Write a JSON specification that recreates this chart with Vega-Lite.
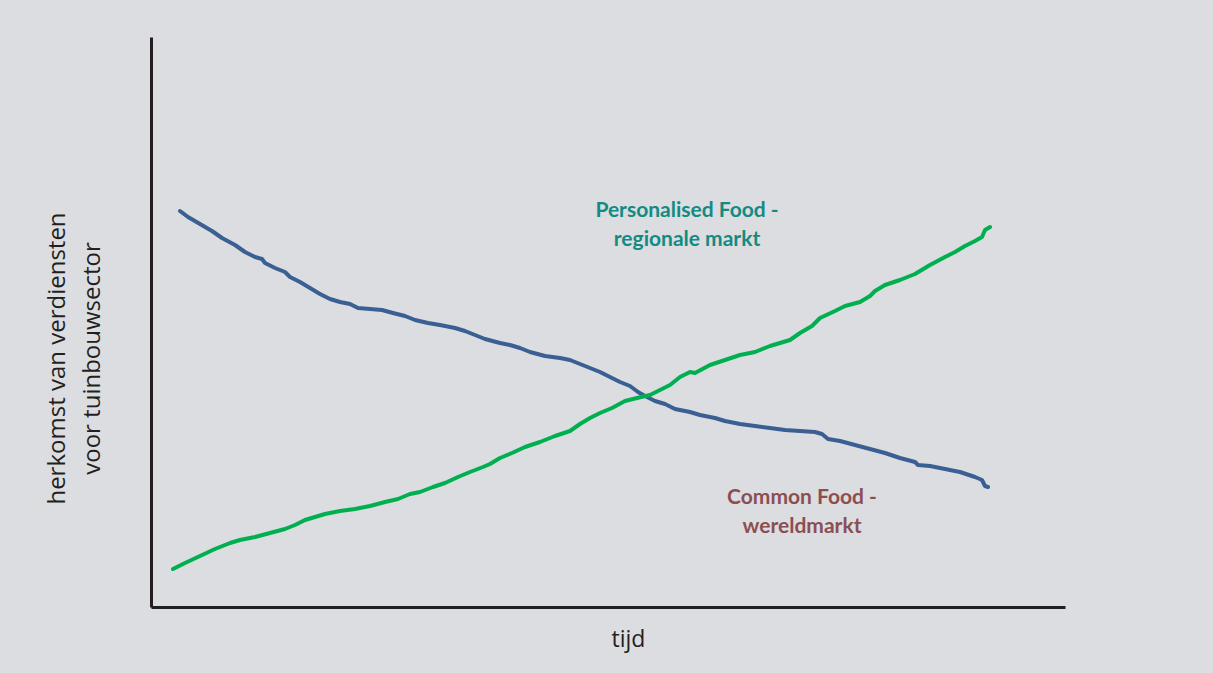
{
  "$schema": "https://vega.github.io/schema/vega-lite/v6.json",
  "width": 914,
  "height": 570,
  "autosize": "none",
  "padding": {"left": 151, "top": 37, "right": 148, "bottom": 66},
  "background": "#dcdde0",
  "config": {"view": {"stroke": null}},
  "datasets": {
    "curves": [
      {"serie": "Common Food", "tijd": 29, "waarde": 396},
      {"serie": "Common Food", "tijd": 37, "waarde": 390},
      {"serie": "Common Food", "tijd": 49, "waarde": 383},
      {"serie": "Common Food", "tijd": 61, "waarde": 376},
      {"serie": "Common Food", "tijd": 71, "waarde": 369},
      {"serie": "Common Food", "tijd": 84, "waarde": 362},
      {"serie": "Common Food", "tijd": 94, "waarde": 355},
      {"serie": "Common Food", "tijd": 104, "waarde": 350},
      {"serie": "Common Food", "tijd": 111, "waarde": 348},
      {"serie": "Common Food", "tijd": 114, "waarde": 344},
      {"serie": "Common Food", "tijd": 124, "waarde": 339},
      {"serie": "Common Food", "tijd": 134, "waarde": 335},
      {"serie": "Common Food", "tijd": 139, "waarde": 330},
      {"serie": "Common Food", "tijd": 149, "waarde": 325},
      {"serie": "Common Food", "tijd": 159, "waarde": 319},
      {"serie": "Common Food", "tijd": 169, "waarde": 313},
      {"serie": "Common Food", "tijd": 179, "waarde": 308},
      {"serie": "Common Food", "tijd": 189, "waarde": 305},
      {"serie": "Common Food", "tijd": 199, "waarde": 303},
      {"serie": "Common Food", "tijd": 207, "waarde": 299},
      {"serie": "Common Food", "tijd": 219, "waarde": 298},
      {"serie": "Common Food", "tijd": 231, "waarde": 297},
      {"serie": "Common Food", "tijd": 242, "waarde": 294},
      {"serie": "Common Food", "tijd": 254, "waarde": 291},
      {"serie": "Common Food", "tijd": 264, "waarde": 287},
      {"serie": "Common Food", "tijd": 277, "waarde": 284},
      {"serie": "Common Food", "tijd": 289, "waarde": 282},
      {"serie": "Common Food", "tijd": 304, "waarde": 279},
      {"serie": "Common Food", "tijd": 314, "waarde": 276},
      {"serie": "Common Food", "tijd": 324, "waarde": 272},
      {"serie": "Common Food", "tijd": 334, "waarde": 268},
      {"serie": "Common Food", "tijd": 349, "waarde": 264},
      {"serie": "Common Food", "tijd": 359, "waarde": 262},
      {"serie": "Common Food", "tijd": 369, "waarde": 259},
      {"serie": "Common Food", "tijd": 379, "waarde": 255},
      {"serie": "Common Food", "tijd": 394, "waarde": 251},
      {"serie": "Common Food", "tijd": 409, "waarde": 249},
      {"serie": "Common Food", "tijd": 419, "waarde": 247},
      {"serie": "Common Food", "tijd": 429, "waarde": 243},
      {"serie": "Common Food", "tijd": 439, "waarde": 239},
      {"serie": "Common Food", "tijd": 449, "waarde": 235},
      {"serie": "Common Food", "tijd": 459, "waarde": 230},
      {"serie": "Common Food", "tijd": 469, "waarde": 225},
      {"serie": "Common Food", "tijd": 479, "waarde": 221},
      {"serie": "Common Food", "tijd": 487, "waarde": 215},
      {"serie": "Common Food", "tijd": 494, "waarde": 211},
      {"serie": "Common Food", "tijd": 504, "waarde": 206},
      {"serie": "Common Food", "tijd": 514, "waarde": 203},
      {"serie": "Common Food", "tijd": 524, "waarde": 198},
      {"serie": "Common Food", "tijd": 539, "waarde": 195},
      {"serie": "Common Food", "tijd": 549, "waarde": 192},
      {"serie": "Common Food", "tijd": 564, "waarde": 189},
      {"serie": "Common Food", "tijd": 574, "waarde": 186},
      {"serie": "Common Food", "tijd": 589, "waarde": 183},
      {"serie": "Common Food", "tijd": 604, "waarde": 181},
      {"serie": "Common Food", "tijd": 619, "waarde": 179},
      {"serie": "Common Food", "tijd": 634, "waarde": 177},
      {"serie": "Common Food", "tijd": 649, "waarde": 176},
      {"serie": "Common Food", "tijd": 664, "waarde": 175},
      {"serie": "Common Food", "tijd": 671, "waarde": 173},
      {"serie": "Common Food", "tijd": 677, "waarde": 168},
      {"serie": "Common Food", "tijd": 689, "waarde": 166},
      {"serie": "Common Food", "tijd": 704, "waarde": 162},
      {"serie": "Common Food", "tijd": 719, "waarde": 158},
      {"serie": "Common Food", "tijd": 734, "waarde": 154},
      {"serie": "Common Food", "tijd": 749, "waarde": 149},
      {"serie": "Common Food", "tijd": 764, "waarde": 145},
      {"serie": "Common Food", "tijd": 767, "waarde": 142},
      {"serie": "Common Food", "tijd": 779, "waarde": 141},
      {"serie": "Common Food", "tijd": 794, "waarde": 138},
      {"serie": "Common Food", "tijd": 809, "waarde": 135},
      {"serie": "Common Food", "tijd": 824, "waarde": 130},
      {"serie": "Common Food", "tijd": 831, "waarde": 127},
      {"serie": "Common Food", "tijd": 834, "waarde": 121},
      {"serie": "Common Food", "tijd": 837, "waarde": 120},
      {"serie": "Personalised Food", "tijd": 22, "waarde": 38},
      {"serie": "Personalised Food", "tijd": 34, "waarde": 44},
      {"serie": "Personalised Food", "tijd": 49, "waarde": 51},
      {"serie": "Personalised Food", "tijd": 64, "waarde": 58},
      {"serie": "Personalised Food", "tijd": 79, "waarde": 64},
      {"serie": "Personalised Food", "tijd": 89, "waarde": 67},
      {"serie": "Personalised Food", "tijd": 104, "waarde": 70},
      {"serie": "Personalised Food", "tijd": 119, "waarde": 74},
      {"serie": "Personalised Food", "tijd": 134, "waarde": 78},
      {"serie": "Personalised Food", "tijd": 144, "waarde": 82},
      {"serie": "Personalised Food", "tijd": 154, "waarde": 87},
      {"serie": "Personalised Food", "tijd": 164, "waarde": 90},
      {"serie": "Personalised Food", "tijd": 174, "waarde": 93},
      {"serie": "Personalised Food", "tijd": 189, "waarde": 96},
      {"serie": "Personalised Food", "tijd": 204, "waarde": 98},
      {"serie": "Personalised Food", "tijd": 219, "waarde": 101},
      {"serie": "Personalised Food", "tijd": 234, "waarde": 105},
      {"serie": "Personalised Food", "tijd": 247, "waarde": 108},
      {"serie": "Personalised Food", "tijd": 259, "waarde": 113},
      {"serie": "Personalised Food", "tijd": 269, "waarde": 115},
      {"serie": "Personalised Food", "tijd": 282, "waarde": 120},
      {"serie": "Personalised Food", "tijd": 294, "waarde": 124},
      {"serie": "Personalised Food", "tijd": 307, "waarde": 130},
      {"serie": "Personalised Food", "tijd": 319, "waarde": 135},
      {"serie": "Personalised Food", "tijd": 332, "waarde": 140},
      {"serie": "Personalised Food", "tijd": 339, "waarde": 143},
      {"serie": "Personalised Food", "tijd": 349, "waarde": 149},
      {"serie": "Personalised Food", "tijd": 361, "waarde": 154},
      {"serie": "Personalised Food", "tijd": 374, "waarde": 160},
      {"serie": "Personalised Food", "tijd": 389, "waarde": 165},
      {"serie": "Personalised Food", "tijd": 404, "waarde": 171},
      {"serie": "Personalised Food", "tijd": 419, "waarde": 176},
      {"serie": "Personalised Food", "tijd": 429, "waarde": 183},
      {"serie": "Personalised Food", "tijd": 439, "waarde": 189},
      {"serie": "Personalised Food", "tijd": 449, "waarde": 194},
      {"serie": "Personalised Food", "tijd": 461, "waarde": 199},
      {"serie": "Personalised Food", "tijd": 474, "waarde": 206},
      {"serie": "Personalised Food", "tijd": 486, "waarde": 209},
      {"serie": "Personalised Food", "tijd": 499, "waarde": 212},
      {"serie": "Personalised Food", "tijd": 509, "waarde": 217},
      {"serie": "Personalised Food", "tijd": 519, "waarde": 222},
      {"serie": "Personalised Food", "tijd": 529, "waarde": 230},
      {"serie": "Personalised Food", "tijd": 539, "waarde": 235},
      {"serie": "Personalised Food", "tijd": 544, "waarde": 234},
      {"serie": "Personalised Food", "tijd": 559, "waarde": 242},
      {"serie": "Personalised Food", "tijd": 574, "waarde": 247},
      {"serie": "Personalised Food", "tijd": 589, "waarde": 252},
      {"serie": "Personalised Food", "tijd": 604, "waarde": 255},
      {"serie": "Personalised Food", "tijd": 619, "waarde": 261},
      {"serie": "Personalised Food", "tijd": 639, "waarde": 267},
      {"serie": "Personalised Food", "tijd": 649, "waarde": 274},
      {"serie": "Personalised Food", "tijd": 661, "waarde": 281},
      {"serie": "Personalised Food", "tijd": 669, "waarde": 289},
      {"serie": "Personalised Food", "tijd": 684, "waarde": 296},
      {"serie": "Personalised Food", "tijd": 694, "waarde": 301},
      {"serie": "Personalised Food", "tijd": 709, "waarde": 305},
      {"serie": "Personalised Food", "tijd": 719, "waarde": 311},
      {"serie": "Personalised Food", "tijd": 724, "waarde": 316},
      {"serie": "Personalised Food", "tijd": 734, "waarde": 322},
      {"serie": "Personalised Food", "tijd": 749, "waarde": 327},
      {"serie": "Personalised Food", "tijd": 764, "waarde": 333},
      {"serie": "Personalised Food", "tijd": 779, "waarde": 342},
      {"serie": "Personalised Food", "tijd": 794, "waarde": 350},
      {"serie": "Personalised Food", "tijd": 804, "waarde": 355},
      {"serie": "Personalised Food", "tijd": 814, "waarde": 361},
      {"serie": "Personalised Food", "tijd": 824, "waarde": 366},
      {"serie": "Personalised Food", "tijd": 831, "waarde": 370},
      {"serie": "Personalised Food", "tijd": 834, "waarde": 377},
      {"serie": "Personalised Food", "tijd": 839, "waarde": 380}
    ],
    "personal": [{"tijd": 536, "waarde": 396, "label": ["Personalised Food -", "regionale markt"]}],
    "common": [{"tijd": 651, "waarde": 109, "label": ["Common Food -", "wereldmarkt"]}]
  },
  "layer": [
    {
      "data": {"name": "curves"},
      "mark": {"type": "line", "strokeWidth": 4, "strokeCap": "round", "strokeJoin": "round"},
      "encoding": {
        "x": {
          "field": "tijd", "type": "quantitative",
          "scale": {"domain": [0, 914], "nice": false, "zero": false},
          "axis": {
            "title": "tijd", "labels": false, "ticks": false, "grid": false,
            "domainColor": "#231f20", "domainWidth": 3,
            "titleFont": "Open Sans", "titleFontSize": 23, "titleFontWeight": "normal", "titleColor": "#231f20",
            "titleX": 477, "titleY": 39, "titleAlign": "center", "titleBaseline": "alphabetic"
          }
        },
        "y": {
          "field": "waarde", "type": "quantitative",
          "scale": {"domain": [0, 570], "nice": false, "zero": false},
          "axis": {
            "title": ["herkomst van verdiensten", "voor tuinbouwsector"],
            "labels": false, "ticks": false, "grid": false,
            "domainColor": "#231f20", "domainWidth": 3,
            "titleFont": "Open Sans", "titleFontSize": 24, "titleFontWeight": "normal", "titleColor": "#231f20",
            "titleAngle": 270, "titleAlign": "center", "titleBaseline": "alphabetic", "titleLineHeight": 35,
            "titleX": -87, "titleY": 321
          }
        },
        "color": {
          "field": "serie", "type": "nominal",
          "scale": {"domain": ["Common Food", "Personalised Food"], "range": ["#3a5f92", "#00b050"]},
          "legend": null
        }
      }
    },
    {
      "data": {"name": "personal"},
      "mark": {"type": "text", "font": "Lato", "fontSize": 21, "fontWeight": "bold", "color": "#138b82", "align": "center", "baseline": "middle", "lineHeight": 29},
      "encoding": {
        "x": {"field": "tijd", "type": "quantitative"},
        "y": {"field": "waarde", "type": "quantitative"},
        "text": {"field": "label"}
      }
    },
    {
      "data": {"name": "common"},
      "mark": {"type": "text", "font": "Lato", "fontSize": 21, "fontWeight": "bold", "color": "#8b4f52", "align": "center", "baseline": "middle", "lineHeight": 29},
      "encoding": {
        "x": {"field": "tijd", "type": "quantitative"},
        "y": {"field": "waarde", "type": "quantitative"},
        "text": {"field": "label"}
      }
    }
  ]
}
